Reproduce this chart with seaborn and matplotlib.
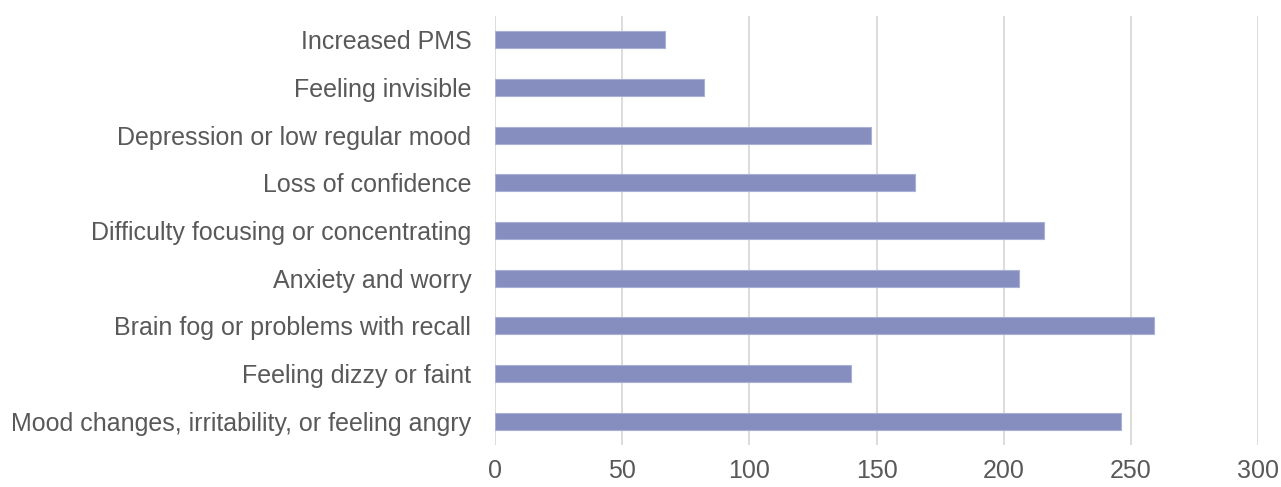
import matplotlib
matplotlib.use("Agg")
import matplotlib.pyplot as plt
import seaborn as sns
import pandas as pd

symptoms = [
    "Increased PMS",
    "Feeling invisible",
    "Depression or low regular mood",
    "Loss of confidence",
    "Difficulty focusing or concentrating",
    "Anxiety and worry",
    "Brain fog or problems with recall",
    "Feeling dizzy or faint",
    "Mood changes, irritability, or feeling angry",
]
counts = [67, 82, 148, 165, 216, 206, 259, 140, 246]
x_ticks = [0, 50, 100, 150, 200, 250, 300]

sns.set_theme(style="white")
plt.rcParams["font.family"] = ["Liberation Sans", "DejaVu Sans"]

text_color = "#595959"
bar_color = "#858EBE"
grid_color = "#D9D9D9"

df = pd.DataFrame({"symptom": symptoms, "count": counts})

fig = plt.figure(figsize=(12.81, 4.87), dpi=100)
ax = fig.add_axes([0.3864, 0.0862, 0.9821 - 0.3864, 0.9671 - 0.0862])

sns.barplot(data=df, x="count", y="symptom", orient="h", color=bar_color,
            saturation=1, width=0.36, edgecolor="#A9B0D6", linewidth=0.8, ax=ax)

ax.set_xlim(0, 300)
ax.set_ylim(len(symptoms) - 0.5, -0.5)
ax.set_xticks(x_ticks)
ax.set_xticklabels([str(t) for t in x_ticks])
ax.xaxis.grid(True, color=grid_color, linewidth=1.3)
ax.yaxis.grid(False)
ax.set_axisbelow(True)
for s in ax.spines.values():
    s.set_visible(False)
ax.set_xlabel("")
ax.set_ylabel("")
ax.tick_params(axis="both", length=0, labelsize=18, labelcolor=text_color)
ax.tick_params(axis="y", pad=17)
ax.tick_params(axis="x", pad=10)

fig.savefig("out.png", dpi=100, facecolor="white")
